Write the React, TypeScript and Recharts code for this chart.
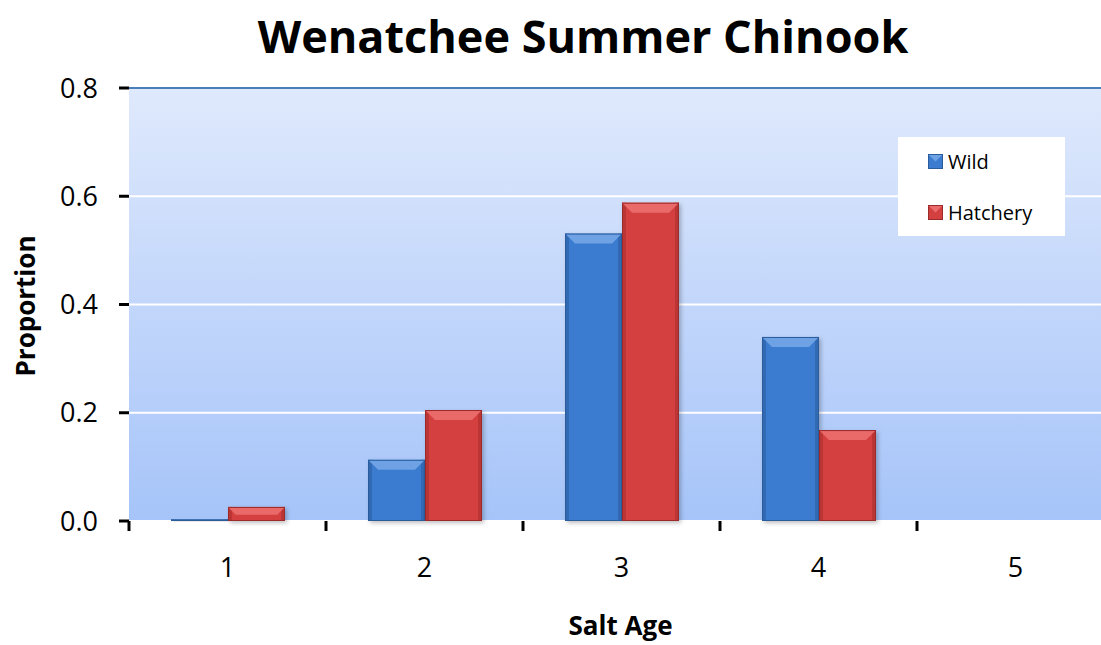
import React from 'react';
import { BarChart, Bar, XAxis, YAxis, CartesianGrid, ReferenceLine } from 'recharts';

const categories = ['1', '2', '3', '4', '5'];
const wildValues = [0.003, 0.113, 0.531, 0.34, 0];
const hatcheryValues = [0.026, 0.205, 0.588, 0.168, 0];
const yTicks = [0, 0.2, 0.4, 0.6, 0.8];

const data = categories.map((c, i) => ({ age: c, Wild: wildValues[i], Hatchery: hatcheryValues[i] }));

const CHART_W = 1130;
const CHART_H = 645;
const MARGIN = { top: 88, right: 16, left: 0, bottom: 64 };
const Y_W = 129;
const PLOT_W = CHART_W - MARGIN.left - MARGIN.right - Y_W;
const BAND = PLOT_W / categories.length;

const FONT = '"Open Sans", "Liberation Sans", sans-serif';

const COLORS = {
  Wild: { base: '#3b7cd0', light: '#6ea2e4', dark: '#2a5c9c', side: '#3369b3' },
  Hatchery: { base: '#d44040', light: '#ea6b6b', dark: '#9b2a2a', side: '#bb3535' },
};

function makeShape(c: { base: string; light: string; dark: string; side: string }) {
  return (props: any) => {
    const { x, y, width, height } = props;
    if (!height || height <= 0 || !width) return <g />;
    const b = Math.min(10, height * 0.55, width / 2);
    const s = Math.min(4, width / 4);
    return (
      <g filter="url(#barShadow)">
        <rect x={x} y={y} width={width} height={height} fill={c.base} />
        <rect x={x} y={y} width={s} height={height} fill={c.side} />
        <rect x={x + width - s} y={y} width={s} height={height} fill={c.side} />
        <polygon
          points={`${x},${y} ${x + width},${y} ${x + width - b},${y + b} ${x + b},${y + b}`}
          fill={c.light}
        />
        <rect x={x + 0.5} y={y + 0.5} width={width - 1} height={height - 1} fill="none" stroke={c.dark} strokeWidth={1} />
      </g>
    );
  };
}

const XTick = (props: any) => {
  const { x, y, payload, index } = props;
  const axisY = y - 8;
  return (
    <g>
      <line x1={x - BAND / 2} y1={axisY} x2={x - BAND / 2} y2={axisY + 10} stroke="#000" strokeWidth={3} />
      {index === categories.length - 1 && (
        <line x1={x + BAND / 2} y1={axisY} x2={x + BAND / 2} y2={axisY + 10} stroke="#000" strokeWidth={3} />
      )}
      <text x={x} y={axisY + 56} textAnchor="middle" fontSize={27} fontFamily={FONT} fill="#000">
        {payload.value}
      </text>
    </g>
  );
};

const LegendMarker = ({ c }: { c: { base: string; light: string; dark: string } }) => (
  <svg width={15} height={15} style={{ display: 'block' }}>
    <rect x={0.5} y={0.5} width={14} height={14} fill={c.base} stroke={c.dark} strokeWidth={1} />
    <polygon points="1,1 14,1 7.5,7.5" fill={c.light} />
  </svg>
);

const LegendBox = () => (
  <div
    style={{
      position: 'absolute',
      left: 898,
      top: 137,
      background: '#fff',
      width: 167,
      height: 99,
      boxSizing: 'border-box',
      paddingLeft: 30,
      paddingTop: 11,
      fontFamily: FONT,
      fontSize: 20,
      color: '#000',
    }}
  >
    {(['Wild', 'Hatchery'] as const).map((k, i) => (
      <div key={k} style={{ display: 'flex', alignItems: 'center', height: 26, marginBottom: i === 0 ? 25 : 0 }}>
        <LegendMarker c={COLORS[k]} />
        <span style={{ marginLeft: 5 }}>{k}</span>
      </div>
    ))}
  </div>
);

export default function App() {
  return (
    <div style={{ position: 'fixed', left: 0, top: 0, width: 1101, height: 645, overflow: 'hidden', background: '#fff' }}>
      <div
        style={{
          position: 'absolute',
          left: 0,
          top: 6,
          width: 1166,
          textAlign: 'center',
          fontFamily: FONT,
          fontWeight: 700,
          fontSize: 45,
          color: '#000',
          lineHeight: '60px',
        }}
      >
        Wenatchee Summer Chinook
      </div>
      <div style={{ position: 'absolute', left: 0, top: 0 }}>
        <BarChart width={CHART_W} height={CHART_H} data={data} margin={MARGIN} barGap={0} barSize={57}>
          <defs>
            <linearGradient id="bgGrad" x1="0" y1="0" x2="0" y2="1">
              <stop offset="0%" stopColor="#dfe9fc" />
              <stop offset="100%" stopColor="#a6c4f9" />
            </linearGradient>
            <filter id="barShadow" x="-20%" y="-20%" width="150%" height="150%">
              <feDropShadow dx="2" dy="2" stdDeviation="2" floodColor="#000" floodOpacity="0.25" />
            </filter>
            <filter id="axisShadow" x="-5%" y="-50%" width="110%" height="400%">
              <feDropShadow dx="2" dy="3" stdDeviation="2.5" floodColor="#000" floodOpacity="0.35" />
            </filter>
          </defs>
          <CartesianGrid vertical={false} stroke="#ffffff" strokeWidth={2} fill="url(#bgGrad)" />
          <ReferenceLine y={0.8} stroke="#4a7ebb" strokeWidth={2} />
          <XAxis
            dataKey="age"
            height={60}
            tickLine={false}
            axisLine={{ stroke: '#000', strokeWidth: 3, filter: 'url(#axisShadow)' } as any}
            tick={<XTick />}
            interval={0}
            label={(p: any) => {
              const vb = p.viewBox;
              return (
                <text
                  x={vb.x + vb.width / 2 - 1}
                  y={635}
                  textAnchor="middle"
                  fontSize={26}
                  fontWeight={700}
                  fontFamily={FONT}
                  fill="#000"
                >
                  Salt Age
                </text>
              );
            }}
          />
          <YAxis
            width={Y_W}
            domain={[0, 0.8]}
            ticks={yTicks}
            tickFormatter={(v: number) => v.toFixed(1)}
            tickSize={10}
            tickMargin={21}
            tickLine={{ stroke: '#000', strokeWidth: 3 }}
            axisLine={{ stroke: '#000', strokeWidth: 3, filter: 'url(#axisShadow)' } as any}
            tick={{ fontSize: 27, fontFamily: FONT, fill: '#000' }}
            label={() => (
              <text
                x={35}
                y={306}
                transform="rotate(-90 35 306)"
                textAnchor="middle"
                fontSize={26}
                fontWeight={700}
                fontFamily={FONT}
                fill="#000"
              >
                Proportion
              </text>
            )}
          />
          <Bar dataKey="Wild" fill={COLORS.Wild.base} shape={makeShape(COLORS.Wild)} isAnimationActive={false} />
          <Bar dataKey="Hatchery" fill={COLORS.Hatchery.base} shape={makeShape(COLORS.Hatchery)} isAnimationActive={false} />
        </BarChart>
      </div>
      <LegendBox />
    </div>
  );
}
